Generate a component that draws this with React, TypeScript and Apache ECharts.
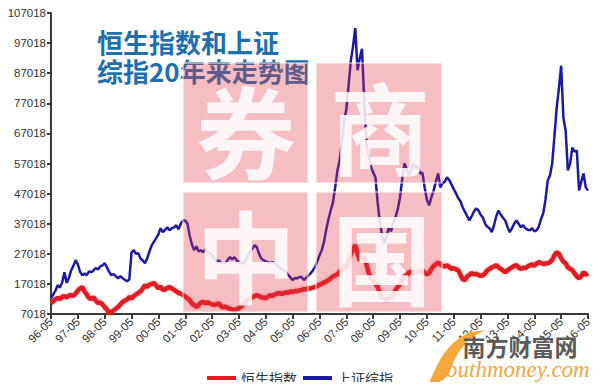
import React, { useEffect, useRef } from "react";
import * as echarts from "echarts";

// ---- data (monthly, 1996-05 .. 2016-05) ----
const tickLabels = [
  "96-05", "97-05", "98-05", "99-05", "00-05", "01-05", "02-05", "03-05", "04-05", "05-05",
  "06-05", "07-05", "08-05", "09-05", "10-05", "11-05", "12-05", "13-05", "14-05", "15-05", "16-05",
];

const seriesNames = ["恒生指数", "上证综指"];

const hangSeng = [
  10700, 11200, 12000, 12300, 12000, 12650, 13000, 12500, 13200, 13300, 13000, 13800,
  14800, 15500, 15960, 14500, 13500, 12300, 12000, 12600, 11500, 10660, 10900, 10200,
  9300, 8500, 7150, 7800, 8200, 8800, 9330, 10200, 11000, 11500, 11800, 12650,
  12200, 13000, 13500, 14000, 14500, 15500, 16600, 16000, 16800, 17000, 17300, 16500,
  15500, 16200, 14960, 15200, 15700, 15960, 15500, 15000, 14500, 14000, 13800, 13300,
  12800, 12200, 11650, 10500, 10000, 9330, 10000, 10800, 11000, 10600, 10900, 10500,
  10200, 10000, 10300, 10600, 9600, 9200, 9500, 9000, 8800, 8400, 8340, 8600,
  9000, 9500, 10200, 11000, 11650, 12200, 12600, 13000, 13300, 13000, 12600, 12500,
  12300, 12800, 13300, 13000, 13500, 13800, 14000, 13700, 13900, 14200, 14100, 14500,
  14300, 14700, 14600, 14900, 15000, 15300, 15200, 15600, 15500, 15800, 16000, 16300,
  16800, 17000, 17500, 17800, 18270, 18800, 19500, 19800, 20300, 21000, 21600, 23000,
  22500, 24500, 27000, 28500, 29900, 27000, 24900, 25500, 25900, 23500, 20600, 19000,
  18000, 17000, 16000, 14000, 12500, 12000, 11650, 12200, 12650, 13500, 15000, 16000,
  17000, 18000, 19500, 20000, 20900, 21000, 20500, 21000, 21250, 20800, 21500, 20800,
  20200, 20600, 22000, 23000, 23500, 24200, 23500, 23000, 22800, 23200, 22600, 22000,
  22300, 21800, 21600, 20000, 18600, 18270, 19500, 20000, 20600, 20200, 20400, 20000,
  19700, 19900, 20500, 21500, 22000, 22500, 22800, 23240, 22500, 22000, 21500, 20900,
  21500, 22000, 22500, 23000, 23240, 22500, 22000, 22400, 22250, 22800, 23200, 23500,
  23000, 23800, 24200, 24000, 23600, 23800, 23900, 24200, 25000, 26500, 27540, 27000,
  25500, 24500, 23900, 22500, 22000, 21600, 20500, 19500, 18900, 19600, 20900, 20000,
  20500,
];

const shanghai = [
  12300, 13500, 14800, 16600, 15800, 17500, 20900, 17300, 19000, 21500, 23000, 24900,
  23500, 21000, 19900, 20500, 19900, 21200, 20900, 21500, 22300, 21800, 22800, 23200,
  23900, 22500, 21000, 19900, 20300, 19500, 18900, 19600, 18900, 18400, 17900, 18500,
  27500, 28200, 27000, 27200, 25500, 24800, 23900, 25500, 27800, 29800, 31000, 32200,
  33500, 35500, 34200, 35000, 35800, 34800, 35500, 35800, 36500, 35200, 37000, 38100,
  38100, 37000, 33000, 30000, 28200, 29500, 27800, 28200, 27500, 28500, 27800, 27200,
  26500, 25500, 24500, 24800, 24000, 23900, 23900, 25000, 25900, 25200, 25900, 24800,
  24500, 24000, 23900, 24800, 26500, 27800, 28800, 29900, 29200, 27000, 25500, 24900,
  24500, 24200, 23900, 24200, 23900, 23200, 22600, 22000, 21600, 21000, 20000, 19200,
  18300, 19000, 18800, 19300, 19300, 18300, 19000, 19800, 20500, 21500, 22600, 24500,
  26500, 28200, 31000, 35000, 38500, 41400, 44000, 49000, 54700, 58000, 64000, 71200,
  75000, 83000, 91100, 96000, 102000, 88000, 92000, 95100, 78000, 63600, 60000, 56000,
  54000, 52400, 44000, 37500, 33000, 30500, 33000, 35800, 34500, 37500, 39100, 42000,
  45800, 52000, 57000, 55000, 53000, 55000, 57000, 55500, 56000, 53700, 54000, 49000,
  45000, 43100, 45800, 48000, 51000, 53700, 49100, 50500, 51000, 52400, 51500, 50000,
  48500, 47100, 45500, 44500, 42400, 41000, 39500, 38100, 39500, 41000, 42100, 41500,
  40000, 39100, 37000, 36000, 35500, 34200, 36500, 39500, 41400, 40000, 39000, 38100,
  36000, 34200, 35500, 37000, 38100, 37000, 35800, 36500, 35500, 35000, 34800, 35500,
  34500, 34800, 36000, 38500, 40500, 45000, 51400, 53000, 57000, 66000, 75500, 82000,
  89500, 72200, 68000, 54700, 57000, 62300, 61000, 61300, 48100, 51000, 53700, 49100,
  48000,
];

const yMin = 7018;
const yMax = 107018;
const yStep = 10000;

const titleLines = ["恒生指数和上证", "综指20年来走势图"];
const watermarkChars = ["券", "商", "中", "国"];
const logoCn = "南方财富网";
const logoEn = "outhmoney.com";

// month categories built from the yearly tick labels
const months: string[] = [];
tickLabels.forEach((lbl, yi) => {
  const yNum = parseInt(lbl.slice(0, 2), 10);
  for (let k = 0; k < 12; k++) {
    if (yi === tickLabels.length - 1 && k > 0) break;
    const mo = 5 + k;
    const realMo = mo > 12 ? mo - 12 : mo;
    const realY = mo > 12 ? (yNum + 1) % 100 : yNum;
    months.push(String(realY).padStart(2, "0") + "-" + String(realMo).padStart(2, "0"));
  }
});

echarts.graphic.registerShape(
  "swoosh",
  echarts.graphic.extendPath(
    "M 428 384 C 436 372, 440 346, 470 332 L 486 330 C 466 338, 456 354, 451 369 C 447 379, 440 384, 428 384 Z",
    {}
  )
);

export default function App() {
  const ref = useRef<HTMLDivElement>(null);

  useEffect(() => {
    if (!ref.current) return;
    const chart = echarts.init(ref.current, undefined, { renderer: "svg" });

    const sqPink = "rgba(226,52,66,0.32)";
    const squares = [
      [183, 63, 125, 120],
      [316, 63, 126, 120],
      [183, 192, 125, 120],
      [316, 192, 126, 120],
    ];
    const charPos = [
      [246, 128],
      [380, 124],
      [246, 252],
      [382, 254],
    ];

    const graphics: any[] = [];
    titleLines.forEach((t, i) => {
      graphics.push({
        type: "text",
        x: 97,
        y: 41 + i * 29,
        z: 50,
        style: {
          text: t,
          fontSize: 26,
          fontWeight: "bold",
          fontFamily: "Noto Sans CJK SC",
          fill: "#1f6fae",
          verticalAlign: "middle",
          align: "left",
        },
      });
    });
    squares.forEach((s) => {
      graphics.push({
        type: "rect",
        z: 100,
        shape: { x: s[0], y: s[1], width: s[2], height: s[3] },
        style: { fill: sqPink, stroke: "rgba(255,255,255,0.45)", lineWidth: 2 },
      });
    });
    watermarkChars.forEach((c, i) => {
      graphics.push({
        type: "text",
        z: 101,
        x: charPos[i][0],
        y: charPos[i][1],
        style: {
          text: c,
          fontSize: 100,
          fontWeight: "bold",
          fontFamily: "Noto Sans CJK SC",
          fill: "rgba(255,255,255,0.85)",
          align: "center",
          verticalAlign: "middle",
        },
      });
    });
    graphics.push({
      type: "swoosh",
      z: 110,
      x: 0,
      y: 0,
      style: { fill: "#f5a93c" },
    });
    graphics.push({
      type: "text",
      z: 111,
      x: 520,
      y: 346,
      style: {
        text: logoCn,
        fontSize: 23,
        fontWeight: "bold",
        fontFamily: "Noto Sans CJK SC",
        fill: "#5a5a5a",
        align: "center",
        verticalAlign: "middle",
      },
    });
    graphics.push({
      type: "text",
      z: 111,
      x: 446,
      y: 369,
      style: {
        text: logoEn,
        fontSize: 23,
        fontStyle: "italic",
        fontFamily: "Liberation Serif",
        fill: "#f2a640",
        align: "left",
        verticalAlign: "middle",
      },
    });

    chart.setOption({
      animation: false,
      backgroundColor: "#ffffff",
      grid: { left: 51, right: 12, top: 13, bottom: 76, containLabel: false },
      legend: {
        top: 366,
        left: "center",
        icon: "rect",
        itemWidth: 29,
        itemHeight: 4,
        itemGap: 6,
        textStyle: { fontSize: 14, color: "#333", fontFamily: "Noto Sans CJK SC" },
        data: seriesNames,
      },
      xAxis: {
        type: "category",
        boundaryGap: false,
        data: months,
        axisLine: { lineStyle: { color: "#3a3a3a", width: 2 } },
        axisTick: { interval: 11, length: 5, lineStyle: { color: "#3a3a3a", width: 2 } },
        axisLabel: {
          interval: 11,
          rotate: 45,
          fontSize: 11.5,
          margin: 6,
          fontFamily: "Liberation Sans",
          color: (_v: any, idx: number) => (idx >= 168 ? "#c4c4c4" : "#333333"),
        },
        splitLine: { show: false },
      },
      yAxis: {
        type: "value",
        min: yMin,
        max: yMax,
        interval: yStep,
        axisLine: { show: true, lineStyle: { color: "#3a3a3a", width: 2 } },
        axisTick: { show: true, length: 4, lineStyle: { color: "#3a3a3a", width: 2 } },
        axisLabel: {
          fontSize: 11.5,
          color: "#333333",
          margin: 5,
          fontFamily: "Liberation Sans",
          formatter: (v: number) => String(Math.round(v)),
        },
        splitLine: { show: false },
      },
      series: [
        {
          name: seriesNames[0],
          type: "line",
          data: hangSeng,
          symbol: "none",
          z: 3,
          color: "#e01e22",
          lineStyle: {
            width: 4.5,
            color: "#e01e22",
            shadowColor: "rgba(230,50,50,0.5)",
            shadowBlur: 2,
          },
        },
        {
          name: seriesNames[1],
          type: "line",
          data: shanghai,
          symbol: "none",
          z: 4,
          color: "#1a1aa6",
          lineStyle: { width: 2.5, color: "#1a1aa6" },
        },
      ],
      graphic: graphics,
    });

    return () => chart.dispose();
  }, []);

  return <div ref={ref} style={{ width: 600, height: 390, margin: -8 }} />;
}
